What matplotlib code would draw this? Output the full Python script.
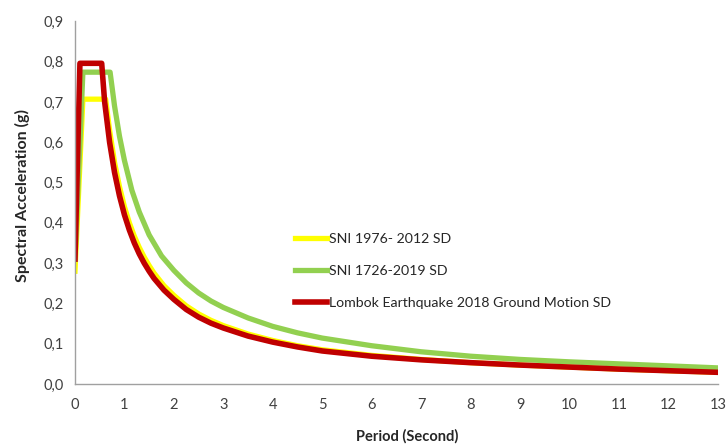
import numpy as np
import matplotlib.pyplot as plt
from matplotlib.ticker import FuncFormatter

# SNI 1976-2012 design spectrum
t_sni2012 = [0, 0.16, 0.62, 0.7, 0.8, 0.9, 1.0, 1.1, 1.2, 1.3, 1.4, 1.5, 1.6, 1.8, 2.0, 2.25,
             2.5, 2.75, 3.0, 3.5, 4.0, 4.5, 5, 6, 7, 8, 9, 10, 11, 12, 13]
sa_sni2012 = [0.28, 0.707, 0.707, 0.63, 0.55, 0.49, 0.44, 0.40, 0.367, 0.339, 0.315, 0.294,
              0.275, 0.244, 0.22, 0.194, 0.174, 0.158, 0.145, 0.124, 0.108, 0.095, 0.085,
              0.071, 0.061, 0.053, 0.047, 0.042, 0.037, 0.033, 0.029]

# SNI 1726-2019 design spectrum
t_sni2019 = [0, 0.16, 0.71, 0.8, 0.9, 1.0, 1.15, 1.3, 1.5, 1.75, 2.0, 2.25, 2.5, 2.75, 3.0,
             3.5, 4.0, 4.5, 5, 6, 7, 8, 9, 10, 11, 12, 13]
sa_sni2019 = [0.31, 0.774, 0.774, 0.69, 0.615, 0.555, 0.481, 0.427, 0.37, 0.318, 0.282,
              0.251, 0.226, 0.206, 0.19, 0.164, 0.143, 0.127, 0.114, 0.095, 0.08, 0.069,
              0.061, 0.055, 0.050, 0.045, 0.040]

# Lombok 2018 ground motion spectrum
t_lombok = [0, 0.1, 0.54, 0.6, 0.7, 0.8, 0.9, 1.0, 1.1, 1.2, 1.3, 1.4, 1.5, 1.6, 1.8, 2.0,
            2.25, 2.5, 2.75, 3.0, 3.5, 4.0, 4.5, 5, 6, 7, 8, 9, 10, 11, 12, 13]
sa_lombok = [0.31, 0.796, 0.796, 0.70, 0.60, 0.525, 0.467, 0.42, 0.382, 0.35, 0.323, 0.30,
             0.28, 0.262, 0.233, 0.21, 0.185, 0.166, 0.151, 0.139, 0.119, 0.104, 0.092,
             0.082, 0.069, 0.06, 0.053, 0.047, 0.042, 0.037, 0.033, 0.029]

labels = ['SNI 1976- 2012 SD', 'SNI 1726-2019 SD', 'Lombok Earthquake 2018 Ground Motion SD']
colors = ['#FFFF00', '#92D050', '#C00000']

plt.rcParams['font.family'] = ['Lato', 'DejaVu Sans']

fig = plt.figure(figsize=(7.28, 4.46), dpi=100)
ax = fig.add_axes([0.103, 0.139, 0.883, 0.813])

ax.plot(t_sni2012, sa_sni2012, color=colors[0], lw=3.8, label=labels[0], solid_joinstyle='round')
ax.plot(t_sni2019, sa_sni2019, color=colors[1], lw=3.8, label=labels[1], solid_joinstyle='round')
ax.plot(t_lombok, sa_lombok, color=colors[2], lw=4.0, label=labels[2], solid_joinstyle='round')

ax.set_xlim(0, 13)
ax.set_ylim(0, 0.9)
ax.set_xticks(np.arange(0, 14, 1))
ax.set_yticks(np.arange(0, 0.91, 0.1))
ax.yaxis.set_major_formatter(FuncFormatter(lambda v, p: f'{v:.1f}'.replace('.', ',')))
ax.tick_params(length=0, labelsize=10.5, colors='#404040')
ax.tick_params(axis='x', pad=10)
ax.tick_params(axis='y', pad=8)

for s in ['top', 'right']:
    ax.spines[s].set_visible(False)
for s in ['left', 'bottom']:
    ax.spines[s].set_color('#A0A0A0')
    ax.spines[s].set_linewidth(1.0)

fig.text(407 / 728, 1 - 436 / 446, 'Period (Second)', ha='center', va='center',
         fontsize=10.5, fontweight='bold', color='#262626')
fig.text(22 / 728, 1 - 196 / 446, 'Spectral Acceleration (g)', ha='center', va='center',
         rotation=90, fontsize=11.5, fontweight='bold', color='#262626')

leg = ax.legend(loc='upper left', bbox_to_anchor=(0.322, 0.452), frameon=False,
                fontsize=10.2, handlelength=2.3, handletextpad=0.15, labelspacing=1.4)
for t in leg.get_texts():
    t.set_color('#262626')

fig.savefig('out.png', dpi=100)
